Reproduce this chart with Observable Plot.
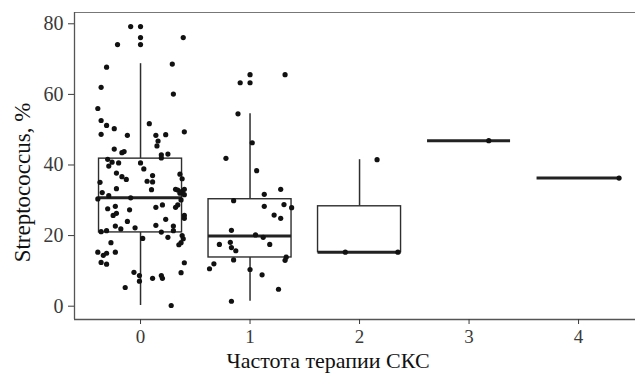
<!DOCTYPE html>
<html><head><meta charset="utf-8">
<script src="https://cdn.jsdelivr.net/npm/d3@7"></script>
<script src="https://cdn.jsdelivr.net/npm/@observablehq/plot@0.6"></script>
<style>body{margin:0;background:#fff}</style>
</head><body><div id="chart"></div>
<script>
// categories (therapy frequency)
const categories = [0, 1, 2, 3, 4];
// box statistics
const boxLow    = [0.2, 1.4, 15.3, 46.9, 36.3];
const boxQ1     = [20.9, 13.8, 15.3, 46.9, 36.3];
const boxMedian = [30.7, 19.9, 15.3, 46.9, 36.3];
const boxQ3     = [41.8, 30.3, 28.3, 46.9, 36.3];
const boxHigh   = [68.7, 54.5, 41.5, 46.9, 36.3];
// outliers drawn by the boxplot at category centre
const outlierCategory = [0, 0, 0, 1, 1];
const outlierValue    = [79.2, 76.1, 74.1, 65.6, 63.3];
// jittered observations: value and horizontal jitter (category units)
const values0 = [79.2,76.1,74.1,67.7,68.6,62.0,60.1,56.0,52.6,51.2,50.3,48.7,48.4,51.7,48.4,48.6,49.4,46.8,45.4,44.5,43.5,43.8,42.9,43.1,42.0,
  41.6,40.8,39.7,40.6,40.6,38.9,37.7,36.7,35.9,37.0,35.4,35.2,33.0,37.4,36.1,35.1,33.3,32.2,31.3,30.4,30.7,33.1,32.9,32.5,33.1,32.0,31.6,30.1,
  27.6,28.3,27.3,28.0,28.7,28.0,28.7,25.7,24.9,25.7,26.3,24.0,24.6,22.9,22.7,21.9,22.2,22.7,21.4,21.0,21.1,21.4,
  19.5,20.0,19.1,18.0,17.4,19.2,18.0,15.3,14.4,15.0,15.3,12.4,11.9,12.3,9.5,9.6,8.7,7.1,7.9,8.7,7.9,5.3,0.2];
const jitter0 = [-0.09,0.39,-0.21,-0.31,0.29,-0.36,0.30,-0.39,-0.36,-0.31,-0.24,-0.36,-0.12,0.08,0.14,0.23,0.40,0.16,0.15,-0.24,-0.17,-0.15,0.19,0.25,0.19,
  -0.30,-0.26,-0.29,-0.20,0.00,0.03,-0.22,-0.17,-0.13,0.11,0.06,0.11,0.10,0.36,0.38,-0.37,-0.22,-0.35,-0.29,-0.39,-0.09,0.32,0.34,0.38,0.40,0.36,0.40,0.37,
  -0.30,-0.23,-0.10,0.14,0.20,0.32,0.34,0.40,0.40,-0.25,-0.22,-0.12,0.23,0.14,-0.23,-0.18,-0.05,0.30,0.30,0.19,-0.36,-0.31,
  0.25,0.38,0.39,0.37,0.35,0.02,-0.27,-0.39,-0.34,-0.31,-0.23,-0.36,-0.31,0.40,0.37,-0.06,-0.01,-0.01,0.11,0.19,0.20,-0.14,0.28];
const values1 = [65.6,63.3,54.5,46.3,41.9,38.4,31.7,33.1,29.9,28.3,28.8,27.9,25.8,24.9,21.5,20.2,19.5,17.5,18.1,16.6,15.7,17.5,13.1,13.9,13.0,12.0,10.6,10.4,8.9,4.8,1.4];
const jitter1 = [0.32,-0.09,-0.11,0.02,-0.22,0.06,0.13,0.28,-0.15,0.13,0.31,0.38,0.22,0.28,-0.17,0.05,0.12,-0.28,-0.18,-0.17,-0.13,0.18,-0.15,0.33,0.32,-0.33,-0.37,0.00,0.11,0.26,-0.17];
const values2 = [41.5, 15.3, 15.3];
const jitter2 = [0.16, -0.13, 0.35];
const values3 = [46.9];
const jitter3 = [0.18];
const values4 = [36.3];
const jitter4 = [0.37];
// tick labels and titles
const yTicks = [0, 20, 40, 60, 80];
const xTitle = "Частота терапии СКС";
const yTitle = "Streptococcus, %";

const xDomain = [-0.603, 4.52];
const yDomain = [-3.77, 83.2];
const halfWidth = 0.379;

const boxes = categories.map((c, i) => ({c, lo: boxLow[i], q1: boxQ1[i], med: boxMedian[i], q3: boxQ3[i], hi: boxHigh[i]}));
const outliers = outlierCategory.map((c, i) => ({c, v: outlierValue[i]}));
const seriesValues = [values0, values1, values2, values3, values4];
const seriesJitter = [jitter0, jitter1, jitter2, jitter3, jitter4];
const points = categories.flatMap((c, k) => seriesValues[k].map((v, i) => ({x: c + seriesJitter[k][i], v})));

const font = "Liberation Serif";
const axisColor = "#3a3a3a";
const boxColor = "#2e2e2e";

const chart = Plot.plot({
  width: 635, height: 374,
  marginLeft: 74, marginRight: 0, marginTop: 12, marginBottom: 55,
  style: {fontFamily: font, background: "#fff"},
  x: {type: "linear", domain: xDomain},
  y: {domain: yDomain},
  marks: [
    Plot.ruleY([yDomain[1]], {stroke: "#777", strokeWidth: 1}),
    Plot.ruleY([yDomain[0]], {stroke: "#555", strokeWidth: 1.3}),
    Plot.ruleX([xDomain[0]], {stroke: "#555", strokeWidth: 1.3}),
    Plot.axisX({ticks: categories, tickSize: 5, tickPadding: 5, tickFormat: d => String(d), fontSize: 19, fill: axisColor, stroke: axisColor, label: null}),
    Plot.axisY({ticks: yTicks, tickSize: 6, tickPadding: 5, fontSize: 20, fill: axisColor, stroke: axisColor, label: null}),
    Plot.ruleX(boxes, {x: "c", y1: "lo", y2: "q1", stroke: boxColor, strokeWidth: 1.5}),
    Plot.ruleX(boxes, {x: "c", y1: "q3", y2: "hi", stroke: boxColor, strokeWidth: 1.5}),
    Plot.rect(boxes, {x1: d => d.c - halfWidth, x2: d => d.c + halfWidth, y1: "q1", y2: "q3", fill: "white", stroke: boxColor, strokeWidth: 1.4}),
    Plot.ruleY(boxes, {x1: d => d.c - halfWidth, x2: d => d.c + halfWidth, y: "med", stroke: "#222", strokeWidth: 3}),
    Plot.dot(outliers, {x: "c", y: "v", r: 2.6, fill: "#111", stroke: null}),
    Plot.dot(points, {x: "x", y: "v", r: 2.6, fill: "#111", stroke: null}),
    Plot.text([yTitle], {frameAnchor: "left", rotate: -90, dx: -51.5, dy: 16.5, fontSize: 23, fill: "#111", textAnchor: "middle", lineAnchor: "middle"}),
    Plot.text([xTitle], {frameAnchor: "bottom", dx: -27, dy: 41.5, fontSize: 22, fill: "#111", textAnchor: "middle", lineAnchor: "middle"})
  ]
});
document.getElementById("chart").appendChild(chart);
</script>
</body></html>
